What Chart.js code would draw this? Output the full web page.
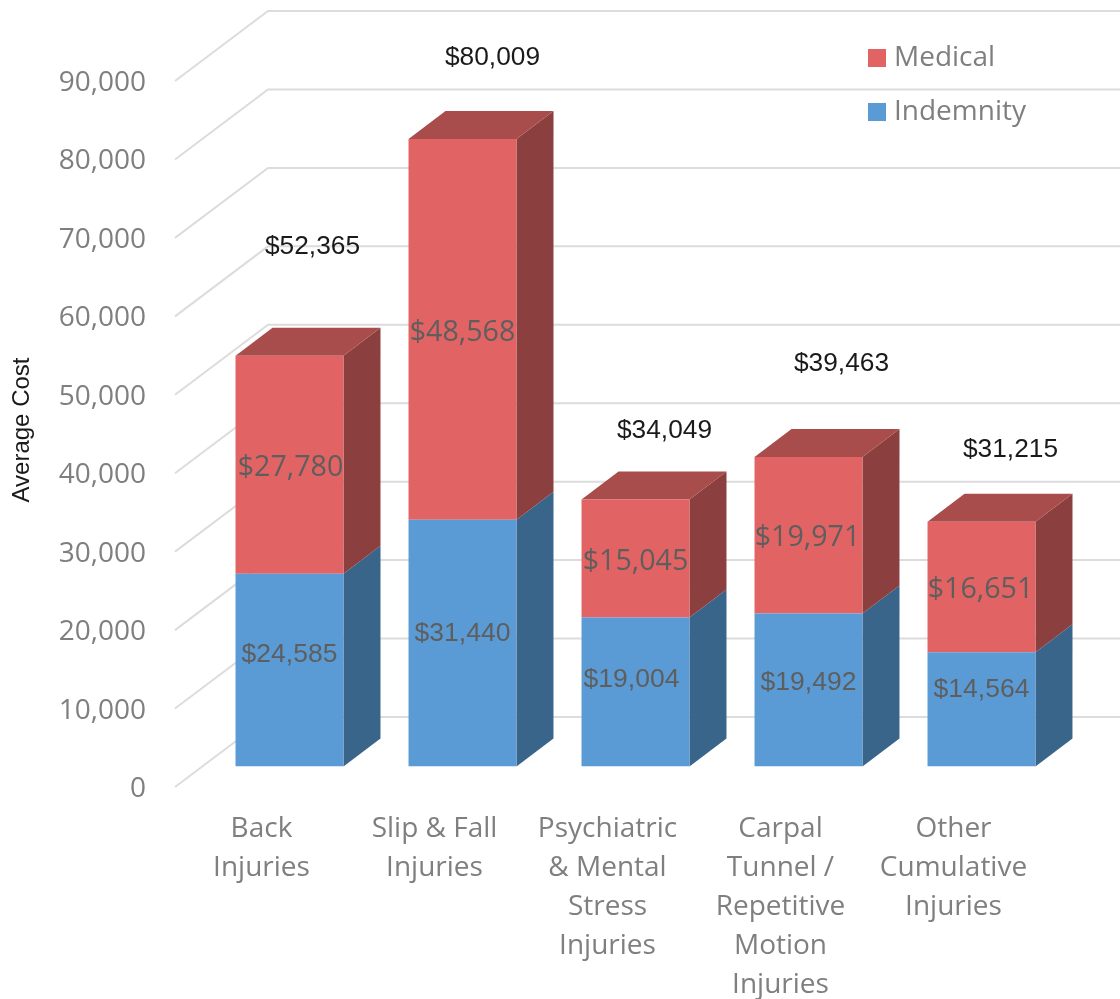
<!DOCTYPE html>
<html>
<head>
<meta charset="utf-8">
<title>Average Cost</title>
<script src="https://cdn.jsdelivr.net/npm/chart.js@4"></script>
<style>
  html, body { margin: 0; padding: 0; background: #fff; }
  canvas { display: block; }
</style>
</head>
<body>
<canvas id="costChart" width="1120" height="999"></canvas>
<script>
// Données
const categories = [
  ["Back", "Injuries"],
  ["Slip & Fall", "Injuries"],
  ["Psychiatric", "& Mental", "Stress", "Injuries"],
  ["Carpal", "Tunnel /", "Repetitive", "Motion", "Injuries"],
  ["Other", "Cumulative", "Injuries"],
];
const indemnity = [24585, 31440, 19004, 19492, 14564];
const medical = [27780, 48568, 15045, 19971, 16651];
const totals = [52365, 80009, 34049, 39463, 31215];
const yTitle = "Average Cost";

// Décalages des étiquettes posées à la main dans l'original
const indemnityShift = [[0, -15], [0, -9], [-4, -12], [0, -7], [0, -20]];
const medicalShift = [[1, 3], [0, 3], [0, 3], [-1, 3], [-1, 3]];
const totalShift = [[23, -109], [30, -81], [29, -69], [33, -93], [29, -72]];

// Perspective de la 3D
const wallDepth = { x: 93, y: -70 };
const barPlane = { x: 28, y: -20.5 };
const barDepth = { x: 37, y: -28 };

const colors = {
  medical: "#E26363",
  medicalTop: "#A84C4C",
  medicalSide: "#8B3F3F",
  indemnity: "#5B9BD5",
  indemnitySide: "#3A658A",
  grid: "#DCDCDC",
  axis: "#7F7F7F",
  inside: "#5E5E5E",
};

const money = (v) => "$" + v.toLocaleString("en-US");

function fillFace(ctx, color, points) {
  ctx.fillStyle = color;
  ctx.beginPath();
  points.forEach((p, i) => (i ? ctx.lineTo(p[0], p[1]) : ctx.moveTo(p[0], p[1])));
  ctx.closePath();
  ctx.fill();
}

// Carré de légende, un peu plus large que la boîte pour coller au texte
function legendSquare(color) {
  const square = document.createElement("canvas");
  square.width = 18;
  square.height = 18;
  const c = square.getContext("2d");
  c.fillStyle = color;
  c.fillRect(0, 0, 18, 18);
  return square;
}

const threeD = {
  id: "threeD",
  afterLayout(chart) {
    // Légende en haut à droite
    const legend = chart.legend;
    legend.left = 848;
    legend.right = 1110;
    legend.top = 18;
    legend.bottom = 300;
  },
  beforeDatasetsDraw(chart) {
    const { ctx, scales } = chart;
    const { y } = scales;

    // Grille : mur du fond et amorces obliques
    ctx.save();
    ctx.strokeStyle = colors.grid;
    ctx.lineWidth = 2;
    y.ticks.forEach((tick) => {
      const py = y.getPixelForValue(tick.value);
      ctx.beginPath();
      ctx.moveTo(chart.chartArea.left, py);
      ctx.lineTo(chart.chartArea.left + wallDepth.x, py + wallDepth.y);
      ctx.lineTo(chart.width, py + wallDepth.y);
      ctx.stroke();
    });
    ctx.restore();

    // Les barres sont dessinées dans un plan décalé vers le fond
    ctx.save();
    ctx.translate(barPlane.x, barPlane.y);
    const d = barDepth;
    chart.data.datasets.forEach((ds, di) => {
      chart.getDatasetMeta(di).data.forEach((bar) => {
        const right = bar.x + bar.width / 2;
        const left = bar.x - bar.width / 2;
        fillFace(ctx, ds.sideColor, [
          [right, bar.y],
          [right + d.x, bar.y + d.y],
          [right + d.x, bar.base + d.y],
          [right, bar.base],
        ]);
        if (ds.topColor) {
          fillFace(ctx, ds.topColor, [
            [left, bar.y],
            [left + d.x, bar.y + d.y],
            [right + d.x, bar.y + d.y],
            [right, bar.y],
          ]);
        }
      });
    });
  },
  afterDatasetsDraw(chart) {
    const { ctx } = chart;
    ctx.restore();

    const indBars = chart.getDatasetMeta(0).data;
    const medBars = chart.getDatasetMeta(1).data;
    ctx.save();
    ctx.textAlign = "center";
    ctx.textBaseline = "middle";

    ctx.fillStyle = colors.inside;
    ctx.font = '26.5px "Liberation Sans"';
    indBars.forEach((bar, i) => {
      ctx.fillText(
        money(indemnity[i]),
        bar.x + barPlane.x + indemnityShift[i][0],
        (bar.y + bar.base) / 2 + barPlane.y + indemnityShift[i][1]
      );
    });

    ctx.font = '28.6px "Open Sans"';
    medBars.forEach((bar, i) => {
      ctx.fillText(
        money(medical[i]),
        bar.x + barPlane.x + medicalShift[i][0],
        (bar.y + bar.base) / 2 + barPlane.y + medicalShift[i][1]
      );
    });

    ctx.fillStyle = "#1A1A1A";
    ctx.font = '26.3px "Liberation Sans"';
    medBars.forEach((bar, i) => {
      ctx.fillText(
        money(totals[i]),
        bar.x + barPlane.x + totalShift[i][0],
        bar.y + barPlane.y + totalShift[i][1]
      );
    });

    // Titre de l'axe, un peu au-dessus du centre de l'échelle
    ctx.translate(22, 430);
    ctx.rotate(-Math.PI / 2);
    ctx.font = '24px "Liberation Sans"';
    ctx.fillText(yTitle, 0, 0);
    ctx.restore();
  },
};

new Chart(document.getElementById("costChart"), {
  type: "bar",
  data: {
    labels: categories,
    datasets: [
      {
        label: "Indemnity",
        data: indemnity,
        backgroundColor: colors.indemnity,
        sideColor: colors.indemnitySide,
      },
      {
        label: "Medical",
        data: medical,
        backgroundColor: colors.medical,
        sideColor: colors.medicalSide,
        topColor: colors.medicalTop,
      },
    ],
  },
  options: {
    responsive: false,
    animation: false,
    layout: { padding: { left: 0, right: 80, top: 81, bottom: 0 } },
    datasets: { bar: { categoryPercentage: 1, barPercentage: 0.624, borderWidth: 0 } },
    scales: {
      x: {
        stacked: true,
        afterFit: (s) => { s.height = 212; },
        grid: { display: false },
        border: { display: false },
        ticks: {
          color: colors.axis,
          font: { family: "Open Sans", size: 28, lineHeight: 1.393 },
          padding: 15,
          autoSkip: false,
          maxRotation: 0,
        },
      },
      y: {
        stacked: true,
        min: 0,
        max: 90000,
        afterFit: (s) => { s.width = 175; },
        grid: { display: false },
        border: { display: false },
        ticks: {
          color: colors.axis,
          font: { family: "Open Sans", size: 28 },
          padding: 21,
          labelOffset: 2,
          stepSize: 10000,
          callback: (v) => v.toLocaleString("en-US"),
        },
      },
    },
    plugins: {
      legend: {
        position: "chartArea",
        align: "start",
        reverse: true,
        labels: {
          color: colors.axis,
          font: { family: "Open Sans", size: 28 },
          usePointStyle: true,
          pointStyleWidth: 6,
          boxHeight: 18,
          padding: 26,
          generateLabels(chart) {
            const items = Chart.defaults.plugins.legend.labels.generateLabels(chart);
            items.forEach((item) => {
              item.pointStyle = legendSquare(item.fillStyle);
            });
            return items;
          },
        },
      },
      tooltip: { enabled: false },
    },
  },
  plugins: [threeD],
});
</script>
</body>
</html>
